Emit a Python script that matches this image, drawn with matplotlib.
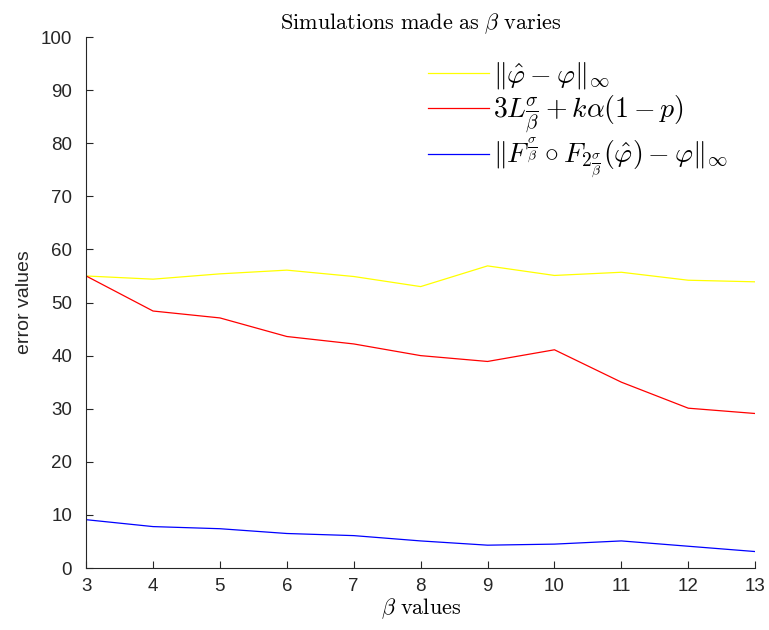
import matplotlib
matplotlib.use("Agg")
import matplotlib.pyplot as plt

plt.rcParams['mathtext.fontset'] = 'cm'
plt.rcParams['font.family'] = ['Liberation Sans', 'DejaVu Sans']

beta = [3, 4, 5, 6, 7, 8, 9, 10, 11, 12, 13]
err_hat = [55.0, 54.4, 55.4, 56.1, 54.9, 53.0, 56.9, 55.1, 55.7, 54.2, 53.9]
bound = [55.0, 48.4, 47.1, 43.6, 42.2, 40.0, 38.9, 41.1, 35.0, 30.1, 29.1]
err_comp = [9.1, 7.8, 7.4, 6.5, 6.1, 5.1, 4.3, 4.5, 5.1, 4.1, 3.1]

labels = [r'$\|\hat{\varphi}-\varphi\|_\infty$',
          r'$3L\frac{\sigma}{\beta}+k\alpha(1-p)$',
          r'$\|F^{\frac{\sigma}{\beta}}\circ F_{2\frac{\sigma}{\beta}}(\hat{\varphi})-\varphi\|_\infty$']
xticks = list(range(3, 14))
yticks = list(range(0, 101, 10))

fig = plt.figure(figsize=(7.69, 6.30), dpi=100)
ax = fig.add_axes([0.112, 0.0984, 0.870, 0.8428])

ax.plot(beta, err_hat, color='#ffff00', lw=0.9, label=labels[0])
ax.plot(beta, bound, color='#ff0000', lw=0.9, label=labels[1])
ax.plot(beta, err_comp, color='#0000ff', lw=0.9, label=labels[2])

ax.set_xlim(3, 13)
ax.set_ylim(0, 100)
ax.set_xticks(xticks)
ax.set_yticks(yticks)
ax.tick_params(direction='in', length=5, width=0.8, labelsize=13.5,
               colors='#262626')
ax.tick_params(axis='y', pad=10)
ax.tick_params(axis='x', pad=7)
for s in ['top', 'right']:
    ax.spines[s].set_visible(False)
for s in ['left', 'bottom']:
    ax.spines[s].set_color('#262626')
    ax.spines[s].set_linewidth(0.8)

ax.set_title(r'$\mathrm{Simulations\ made\ as\ }\beta\mathrm{\ varies}$',
             fontsize=16, pad=6)
ax.set_xlabel(r'$\beta\mathrm{\ values}$', fontsize=16, labelpad=1)
ax.set_ylabel('error values', fontsize=14, color='#262626', labelpad=6)

leg = ax.legend(loc='upper left', bbox_to_anchor=(0.494, 0.977), frameon=False,
                fontsize=20, handlelength=2.2, handletextpad=0.15,
                labelspacing=0.08, borderaxespad=0)

fig.savefig('out.png', dpi=100)
